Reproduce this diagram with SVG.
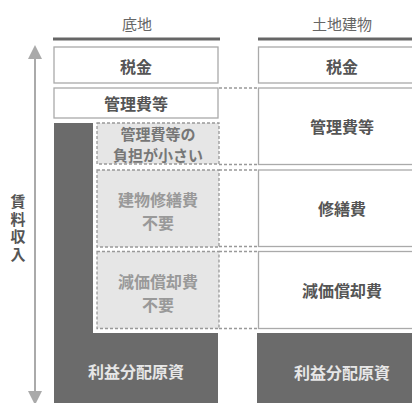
<svg xmlns="http://www.w3.org/2000/svg" width="412" height="403" viewBox="0 0 412 403">
<defs>
<marker id="ah" viewBox="0 0 10 10" refX="5" refY="5" markerWidth="7" markerHeight="7" orient="auto-start-reverse" markerUnits="strokeWidth">
<path d="M0,0 L10,5 L0,10 Z" fill="#aaaaaa"/>
</marker>
</defs>
<style>
text{font-family:"Noto Sans CJK JP","Noto Sans CJK SC",sans-serif;text-anchor:middle;dominant-baseline:central}
.ttl{font-size:15px;fill:#666}
.bx{fill:#fff;stroke:#aaa;stroke-width:1.3}
.lbl{font-size:16px;font-weight:bold;fill:#555}
.dark{fill:#6b6b6b}
.wt{font-size:16px;font-weight:bold;fill:#e6e6e6}
.db{fill:#e6e6e6;stroke:#999;stroke-width:1.3;stroke-dasharray:3 2}
.dl{fill:none;stroke:#999;stroke-width:1.3;stroke-dasharray:3 2}
.gt{font-size:16px;font-weight:bold;fill:#999}
.gt2{font-size:15px;font-weight:bold;fill:#777}
</style>
<g id="title-left"><text class="ttl" x="137" y="23">底地</text><rect x="53" y="37.5" width="167" height="3" fill="#666"/></g>
<g id="title-right"><text class="ttl" x="342" y="23">土地建物</text><rect x="258" y="37.5" width="160" height="3" fill="#666"/></g>
<g id="axis">
<line x1="35" y1="52" x2="35" y2="398" stroke="#aaa" stroke-width="2" marker-start="url(#ah)" marker-end="url(#ah)"/>
<text x="18" y="229" font-size="15" font-weight="bold" fill="#555" writing-mode="vertical-rl" letter-spacing="2.5">賃料収入</text>
</g>
<g id="connectors">
<line class="dl" x1="219" y1="88" x2="258" y2="88"/>
<line class="dl" x1="219" y1="164.5" x2="258" y2="164.5"/>
<line class="dl" x1="219" y1="170" x2="258" y2="170"/>
<line class="dl" x1="219" y1="246.5" x2="258" y2="246.5"/>
<line class="dl" x1="219" y1="251.5" x2="258" y2="251.5"/>
<line class="dl" x1="219" y1="328.5" x2="258" y2="328.5"/>
</g>
<g id="l-tax"><rect class="bx" x="54" y="47" width="164" height="36"/><text class="lbl" x="136" y="66">税金</text></g>
<g id="l-mgmt"><rect class="bx" x="54" y="88" width="164" height="30"/><text class="lbl" x="136" y="103">管理費等</text></g>
<g id="l-profit"><path class="dark" d="M54,123 H93 V333 H218 V403 H54 Z"/><text class="wt" x="136" y="371">利益分配原資</text></g>
<g id="l-mgmt-small"><rect class="db" x="97" y="123" width="122" height="41"/><text class="gt2" x="158" y="133">管理費等の</text><text class="gt2" x="158" y="154">負担が小さい</text></g>
<g id="l-repair"><rect class="db" x="97" y="170" width="122" height="77"/><text class="gt" x="158" y="199">建物修繕費</text><text class="gt" x="158" y="222">不要</text></g>
<g id="l-depr"><rect class="db" x="97" y="251.5" width="122" height="77"/><text class="gt" x="158" y="281">減価償却費</text><text class="gt" x="158" y="304">不要</text></g>
<g id="r-tax"><rect class="bx" x="258.5" y="47" width="170" height="36"/><text class="lbl" x="342" y="66">税金</text></g>
<g id="r-mgmt"><rect class="bx" x="258.5" y="88" width="170" height="76.5"/><text class="lbl" x="342" y="126">管理費等</text></g>
<g id="r-repair"><rect class="bx" x="258.5" y="170" width="170" height="76.5"/><text class="lbl" x="342" y="208">修繕費</text></g>
<g id="r-depr"><rect class="bx" x="258.5" y="251.5" width="170" height="77"/><text class="lbl" x="342" y="290">減価償却費</text></g>
<g id="r-profit"><rect class="dark" x="257" y="333" width="160" height="75"/><text class="wt" x="342" y="372">利益分配原資</text></g>
</svg>
